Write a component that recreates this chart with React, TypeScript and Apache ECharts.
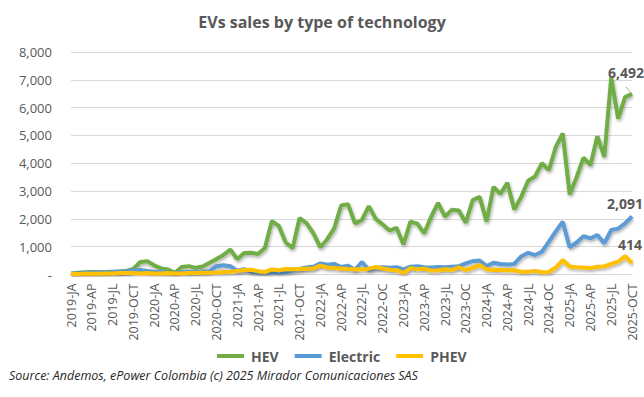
import React, { useEffect, useRef } from "react";
import * as echarts from "echarts";

const categories: string[] = [
  "2019-JA","2019-FE","2019-MR","2019-AP","2019-MY","2019-JN","2019-JL","2019-AG","2019-SE","2019-OCT","2019-NO","2019-DE",
  "2020-JA","2020-FE","2020-MR","2020-AP","2020-MY","2020-JN","2020-JL","2020-AG","2020-SE","2020-OCT","2020-NO","2020-DE",
  "2021-JA","2021-FE","2021-MR","2021-AP","2021-MY","2021-JN","2021-JL","2021-AG","2021-SE","2021-OCT","2021-NO","2021-DE",
  "2022-JA","2022-FE","2022-MR","2022-AP","2022-MY","2022-JN","2022-JL","2022-AG","2022-SE","2022-OC","2022-NO","2022-DE",
  "2023-JA","2023-FE","2023-MR","2023-AP","2023-MY","2023-JN","2023-JL","2023-AG","2023-SE","2023-OC","2023-NO","2023-DE",
  "2024-JA","2024-FE","2024-MR","2024-AP","2024-MY","2024-JN","2024-JL","2024-AG","2024-SE","2024-OC","2024-NO","2024-DE",
  "2025-JA","2025-FE","2025-MR","2025-AP","2025-MY","2025-JN","2025-JL","2025-AG","2025-SE","2025-OCT",
];

const hev: number[] = [
  40, 60, 80, 90, 80, 90, 100, 110, 130, 200, 450, 480,
  330, 220, 180, 60, 270, 300, 240, 290, 420, 560, 700, 900,
  550, 770, 780, 740, 950, 1920, 1750, 1150, 950, 2030, 1850, 1480,
  980, 1270, 1660, 2480, 2530, 1840, 1960, 2460, 2000, 1800, 1580, 1680,
  1080, 1900, 1830, 1480, 2080, 2570, 2080, 2330, 2300, 1860, 2680, 2790,
  1900, 3150, 2900, 3300, 2340, 2790, 3370, 3530, 4000, 3750, 4590, 5070,
  2880, 3500, 4200, 3930, 4970, 4230, 7080, 5600, 6380, 6492,
];

const electric: number[] = [
  20, 40, 60, 60, 70, 80, 90, 110, 120, 140, 160, 130,
  90, 100, 60, 50, 80, 90, 100, 110, 120, 300, 330, 300,
  140, 190, 100, 60, 80, 70, 60, 80, 150, 200, 250, 280,
  400, 350, 380, 270, 320, 170, 450, 170, 230, 260, 240, 260,
  180, 280, 300, 260, 250, 270, 260, 280, 300, 400, 480, 500,
  300, 420, 380, 360, 380, 650, 780, 700, 820, 1180, 1550, 1900,
  980, 1150, 1380, 1300, 1420, 1120, 1600, 1650, 1840, 2091,
];

const phev: number[] = [
  20, 20, 30, 30, 30, 40, 40, 50, 50, 50, 40, 50,
  40, 40, 50, 40, 40, 50, 50, 60, 60, 70, 90, 100,
  130, 160, 170, 120, 90, 180, 150, 200, 190, 200, 210, 220,
  320, 250, 230, 220, 200, 190, 180, 210, 270, 220, 170, 160,
  60, 230, 190, 210, 140, 150, 190, 160, 260, 160, 240, 340,
  190, 160, 160, 150, 150, 100, 100, 130, 80, 90, 250, 520,
  290, 260, 250, 230, 280, 290, 380, 460, 660, 414,
];

const seriesNames = ["HEV", "Electric", "PHEV"];
const colors = ["#70AD47", "#5B9BD5", "#FFC000"];
const endLabelOffsets: number[][] = [[-6, -9], [-7, -1], [-2, -6]];

const fmt = (v: number) => (v === 0 ? "-" : v.toLocaleString("en-US"));
const FONT = "'Open Sans', sans-serif";

export default function App() {
  const ref = useRef<HTMLDivElement>(null);
  useEffect(() => {
    document.body.style.margin = "0";
    if (!ref.current) return;
    const chart = echarts.init(ref.current, null, { renderer: "svg" });
    const all = [hev, electric, phev];
    const series = all.map((arr, si) => ({
      name: seriesNames[si],
      type: "line",
      data: arr.map((v, i) =>
        i === arr.length - 1
          ? {
              value: v,
              label: {
                show: true,
                position: "top",
                offset: endLabelOffsets[si],
                formatter: (p: any) => fmt(p.value),
                fontFamily: FONT,
                fontSize: 14,
                fontWeight: "bold",
                color: "#595959",
              },
              labelLine: si === 0 ? { show: true, lineStyle: { color: "#a6a6a6", width: 1 } } : { show: false },
            }
          : v
      ),
      showSymbol: true,
      symbol: "circle",
      symbolSize: 0,
      smooth: false,
      z: 2 + si,
      label: { show: false },
      lineStyle: {
        width: 4,
        color: colors[si],
        shadowColor: "rgba(0,0,0,0.3)",
        shadowBlur: 3,
        shadowOffsetX: 1,
        shadowOffsetY: 2,
      },
      itemStyle: { color: colors[si] },
    }));
    chart.setOption({
      animation: false,
      backgroundColor: "#ffffff",
      title: {
        text: "EVs sales by type of technology",
        left: "center",
        top: 9,
        textStyle: { fontFamily: FONT, fontSize: 16, fontWeight: "bold", color: "#595959" },
      },
      legend: {
        data: seriesNames,
        left: 212,
        top: 344,
        icon: "rect",
        itemWidth: 27,
        itemHeight: 4,
        itemGap: 16,
        textStyle: { fontFamily: FONT, fontSize: 14, fontWeight: "bold", color: "#595959", padding: [0, 0, 0, 2] },
      },
      grid: { left: 71, right: 12, top: 52, bottom: 122.5, containLabel: false },
      xAxis: {
        type: "category",
        data: categories,
        boundaryGap: false,
        axisLine: { lineStyle: { color: "#d9d9d9" } },
        axisTick: { show: false },
        axisLabel: {
          interval: 2,
          rotate: 90,
          margin: 9,
          fontFamily: FONT,
          fontSize: 12.5,
          color: "#595959",
        },
      },
      yAxis: {
        type: "value",
        min: 0,
        max: 8000,
        interval: 1000,
        axisLine: { show: false },
        axisTick: { show: false },
        splitLine: { lineStyle: { color: "#d9d9d9", width: 1 } },
        axisLabel: {
          margin: 19,
          fontFamily: FONT,
          fontSize: 13,
          color: "#595959",
          formatter: (v: number) => fmt(v),
        },
      },
      graphic: [
        {
          type: "text",
          left: 9,
          top: 369,
          style: {
            text: "Source: Andemos, ePower Colombia (c) 2025 Mirador Comunicaciones SAS",
            font: `italic 12.5px ${FONT}`,
            fill: "#262626",
          },
        },
      ],
      series,
    });
    return () => chart.dispose();
  }, []);
  return <div ref={ref} style={{ width: 644, height: 397 }} />;
}
